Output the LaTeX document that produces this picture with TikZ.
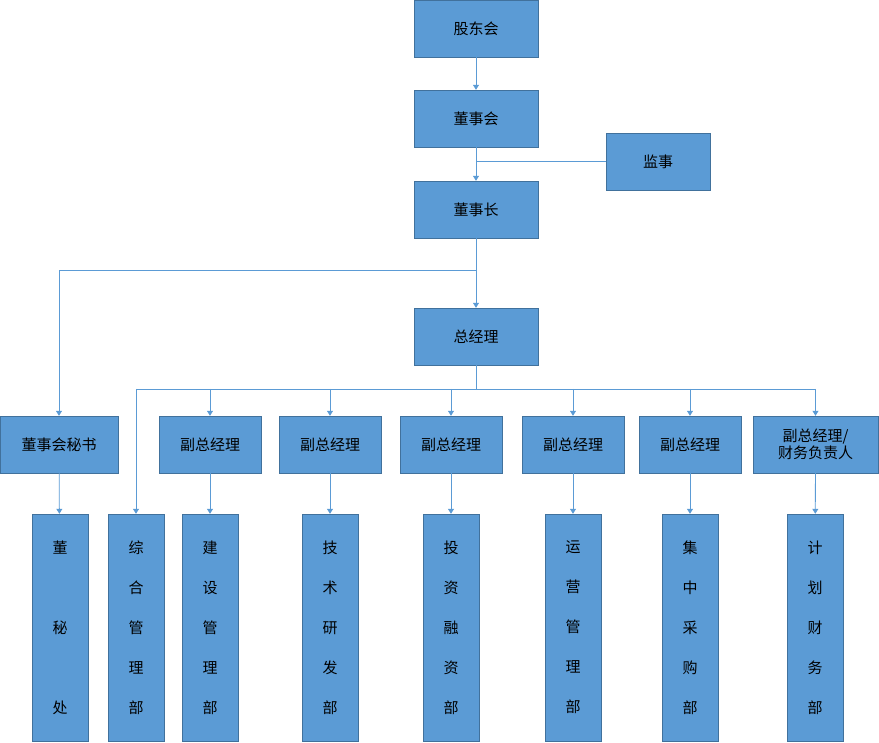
\documentclass[tikz,border=0pt]{standalone}
\usepackage{fontspec}
\setmainfont{Noto Sans CJK SC}
\usetikzlibrary{positioning,calc,arrows.meta}
\definecolor{boxblue}{HTML}{5B9BD5}
\definecolor{boxedge}{HTML}{41719C}
\tikzstyle{unit} = [draw=boxedge, fill=boxblue, rectangle, inner sep=1pt, minimum width=124pt, minimum height=57pt, font=\fontsize{15}{18}\selectfont]
\tikzstyle{vice} = [unit, minimum width=102pt]
\tikzstyle{dept} = [draw=boxedge, fill=boxblue, rectangle, minimum width=56pt, minimum height=227pt, font=\fontsize{15}{18}\selectfont, align=center]
\tikzstyle{edge} = [-{Triangle[length=5pt,width=6pt]}, draw=boxblue, line width=0.8pt]
\tikzstyle{link} = [draw=boxblue, line width=0.8pt]

\begin{document}
\begin{tikzpicture}[x=1pt, y=-1pt]
	\useasboundingbox (0,0) rectangle (879,743);
	\node[unit] (gdh) at ( 476, 28.5 ) {股东会};
	\node[unit] (dsh) at ( 476, 118.5 ) {董事会};
	\node[unit, minimum width=104pt] (js) at ( 658, 161.5 ) {监事};
	\node[unit] (dsz) at ( 476, 209.5 ) {董事长};
	\node[unit] (zjl) at ( 476, 336.5 ) {总经理};
	\node[unit, minimum width=118pt] (ms) at ( 59, 444.5 ) {董事会秘书};
	\node[vice] (v1) at ( 210, 444.5 ) {副总经理};
	\node[vice] (v2) at ( 330, 444.5 ) {副总经理};
	\node[vice] (v3) at ( 451, 444.5 ) {副总经理};
	\node[vice] (v4) at ( 573, 444.5 ) {副总经理};
	\node[vice] (v5) at ( 690, 444.5 ) {副总经理};
	\node[vice, minimum width=125pt, align=center, font=\fontsize{15}{17}\selectfont] (v6) at ( 815.5, 444.5 ) {副总经理/\\财务负责人};

	\node[dept] (d0) at ( 60, 627.5 ) {董\\[62pt]秘\\[62pt]处};
	\node[dept] (d1) at ( 136, 627.5 ) {综\\[22pt]合\\[22pt]管\\[22pt]理\\[22pt]部};
	\node[dept] (d2) at ( 210, 627.5 ) {建\\[22pt]设\\[22pt]管\\[22pt]理\\[22pt]部};
	\node[dept] (d3) at ( 330, 627.5 ) {技\\[22pt]术\\[22pt]研\\[22pt]发\\[22pt]部};
	\node[dept] (d4) at ( 451, 627.5 ) {投\\[22pt]资\\[22pt]融\\[22pt]资\\[22pt]部};
	\node[dept] (d5) at ( 573, 627.5 ) {运\\[22pt]营\\[22pt]管\\[22pt]理\\[22pt]部};
	\node[dept] (d6) at ( 690, 627.5 ) {集\\[22pt]中\\[22pt]采\\[22pt]购\\[22pt]部};
	\node[dept] (d7) at ( 815, 627.5 ) {计\\[22pt]划\\[22pt]财\\[22pt]务\\[22pt]部};

	\coordinate (top) at ( 476, 270 );
	\coordinate (bar) at ( 476, 389 );

	\draw[edge](gdh) -- (dsh);
	\draw[edge](dsh) -- (dsz);
	\draw[link](js.west) -- (js.west -| dsz);
	\draw[edge](dsz) -- (zjl);
	\draw[edge](top) -| (ms);
	\draw[link](zjl) -- (bar);
	\draw[link](bar -| d1) -- (bar -| v6);
	\draw[edge](bar -| d1) -- (d1);
	\foreach \v in {v1,v2,v3,v4,v5,v6}
		\draw[edge](bar -| \v) -- (\v);
	\draw[edge](ms) -- (d0);
	\foreach \v/\d in {v1/d2,v2/d3,v3/d4,v4/d5,v5/d6,v6/d7}
		\draw[edge](\v) -- (\d);
\end{tikzpicture}
\end{document}
